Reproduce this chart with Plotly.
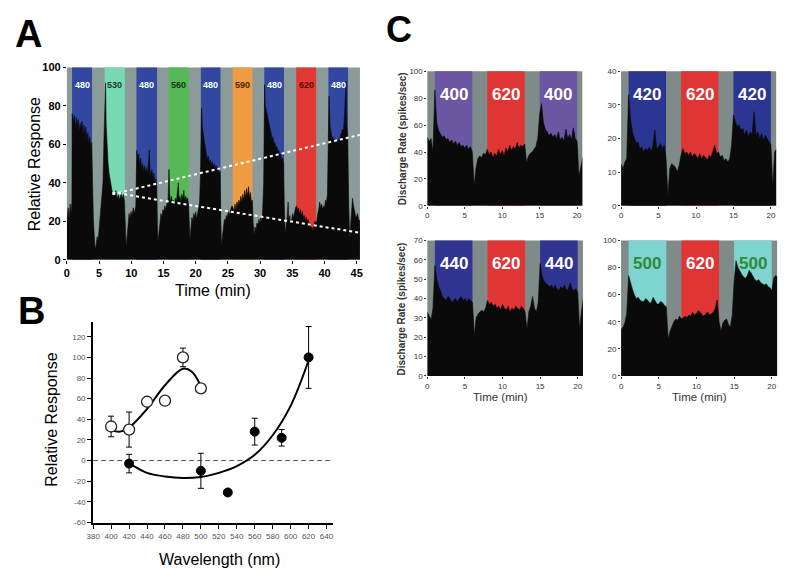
import plotly.graph_objects as go

# ---------------- Panel A data ----------------
a_time = [0.0, 0.2, 0.35, 0.5, 0.65, 0.78,
          0.82, 1.0, 1.15, 1.3, 1.45, 1.6, 1.75, 1.9, 2.05, 2.2, 2.35, 2.5, 2.65, 2.8, 2.95, 3.1, 3.25, 3.4, 3.55, 3.7, 3.85,
          3.95, 4.1, 4.25, 4.4, 4.55, 4.7, 4.85, 5.0, 5.15, 5.3, 5.45, 5.6, 5.75, 5.9, 6.0, 6.1,
          6.25, 6.4, 6.55, 6.7, 6.85, 7.0, 7.2, 7.4, 7.6, 7.8, 8.0, 8.2, 8.4, 8.6, 8.8, 8.95,
          9.05, 9.2, 9.35, 9.5, 9.65, 9.8, 9.95, 10.1, 10.3, 10.5, 10.7,
          10.85, 11.0, 11.15, 11.3, 11.45, 11.6, 11.75, 11.9, 12.05, 12.2, 12.35, 12.5, 12.65, 12.8, 12.9, 13.05, 13.2, 13.35, 13.5, 13.65, 13.8, 13.95,
          14.05, 14.15, 14.3, 14.45, 14.6, 14.75, 14.9, 15.05, 15.2, 15.35, 15.5, 15.7,
          15.85, 15.95, 16.1, 16.25, 16.4, 16.55, 16.7, 16.85, 17.0, 17.15, 17.3, 17.4, 17.55, 17.7, 17.85, 18.0, 18.15, 18.3, 18.45, 18.6, 18.75, 18.9,
          19.0, 19.1, 19.25, 19.4, 19.55, 19.7, 19.85, 20.0, 20.15, 20.3, 20.45, 20.6, 20.75, 20.9, 21.05,
          21.2, 21.35, 21.5, 21.65, 21.8, 21.95, 22.1, 22.25, 22.4, 22.55, 22.7, 22.85, 23.0, 23.15, 23.3, 23.45, 23.6, 23.8,
          23.9, 24.0, 24.15, 24.3, 24.45, 24.6, 24.75, 24.9, 25.05, 25.2, 25.35, 25.5, 25.65,
          25.8, 25.95, 26.1, 26.25, 26.4, 26.55, 26.7, 26.85, 27.0, 27.15, 27.3, 27.45, 27.6, 27.75, 27.9, 28.05, 28.2, 28.35, 28.5, 28.65, 28.8,
          28.9, 29.05, 29.2, 29.35, 29.5, 29.65, 29.8, 29.95, 30.1, 30.25, 30.4, 30.55, 30.7, 30.8,
          30.95, 31.1, 31.25, 31.4, 31.55, 31.7, 31.85, 32.0, 32.15, 32.3, 32.45, 32.6, 32.75, 32.9, 33.05, 33.2, 33.35, 33.5, 33.65,
          33.75, 33.9, 34.05, 34.2, 34.35, 34.45, 34.6, 34.75, 34.9, 35.05, 35.2, 35.35, 35.5,
          35.65, 35.8, 35.95, 36.1, 36.25, 36.4, 36.55, 36.7, 36.85, 37.0, 37.15, 37.3, 37.45, 37.6, 37.75, 37.9, 38.05, 38.2, 38.35, 38.5, 38.65,
          38.8, 38.95, 39.1, 39.25, 39.4, 39.55, 39.7, 39.85, 40.0, 40.15, 40.3, 40.45, 40.55,
          40.7, 40.85, 41.0, 41.15, 41.3, 41.45, 41.6, 41.75, 41.9, 42.05, 42.2, 42.35, 42.5, 42.65, 42.8, 42.95, 43.1, 43.25, 43.35, 43.45, 43.6,
          43.75, 43.9, 44.05, 44.2, 44.35, 44.5, 44.65, 44.8, 44.95, 45.1, 45.3, 45.5]
a_resp = [20, 27, 21, 29, 24, 30,
          76, 72, 75, 68, 74, 70, 73, 66, 71, 68, 72, 65, 70, 64, 69, 62, 66, 60, 64, 58, 61,
          40, 22, 12, 5, 8, 12, 10, 16, 22, 26, 31, 40, 62, 80, 92, 70,
          58, 50, 45, 42, 39, 36, 35, 33, 36, 32, 34, 31, 35, 32, 34, 30,
          20, 7, 12, 18, 24, 21, 25, 23, 27, 24, 28,
          57, 52, 55, 49, 53, 47, 50, 46, 49, 45, 48, 44, 50, 57, 46, 44, 47, 42, 45, 40, 42, 38,
          18, 9, 14, 20, 24, 22, 26, 25, 28, 26, 29, 30,
          47, 34, 30, 33, 29, 31, 28, 32, 30, 35, 40, 31, 33, 30, 34, 31, 36, 30, 33, 31, 32, 28,
          18, 10, 16, 22, 20, 24, 22, 25, 21, 24, 27, 30, 45, 79, 68,
          64, 60, 57, 55, 52, 54, 50, 52, 49, 51, 48, 50, 47, 49, 46, 48, 45, 46,
          20, 7, 12, 18, 21, 20, 23, 22, 25, 23, 26, 27, 28,
          27, 25, 29, 26, 30, 28, 31, 29, 33, 30, 34, 31, 36, 32, 37, 33, 38, 32, 35, 30, 31,
          20, 13, 17, 15, 19, 18, 21, 19, 22, 20, 26, 40, 91, 80,
          78, 75, 72, 70, 68, 66, 62, 64, 60, 61, 58, 59, 56, 57, 54, 55, 52, 53, 50,
          28, 13, 18, 22, 30, 20, 23, 19, 21, 24, 22, 25, 27,
          28, 26, 27, 24, 26, 23, 25, 22, 23, 20, 22, 19, 21, 18, 19, 16, 17, 15, 18, 20, 19,
          20, 24, 26, 30, 27, 29, 26, 28, 27, 31, 30, 34, 50,
          85, 70, 66, 63, 64, 61, 63, 60, 62, 61, 63, 62, 65, 66, 68, 67, 75, 86, 93, 70, 64,
          30, 10, 18, 26, 32, 28, 25, 23, 22, 24, 21, 20]
a_band_start = [0.8, 5.85, 10.8, 15.8, 20.8, 25.75, 30.65, 35.6, 40.6]
a_band_end = [3.9, 9.0, 14.0, 18.9, 23.85, 28.8, 33.7, 38.7, 43.65]
a_band_nm = ["480", "530", "480", "560", "480", "590", "480", "620", "480"]
a_trend_x = [7.06, 45.5]
a_trend_up = [34, 65]
a_trend_down = [35, 14]

# ---------------- Panel B data ----------------
b_open_wl = [400, 420, 440, 460, 480, 500]
b_open_val = [33, 30, 57, 58, 100, 70]
b_open_err = [10, 17, 0, 0, 9, 0]
b_fill_wl = [420, 500, 530, 560, 590, 620]
b_fill_val = [-3, -10, -31, 28, 22, 100]
b_fill_err = [9, 17, 0, 13, 8, 30]
b_fit_open_wl = [400, 410, 420, 440, 460, 480, 490, 500]
b_fit_open_val = [29.5, 28, 32, 50, 73, 89, 86, 72]
b_fit_fill_wl = [420, 440, 460, 480, 500, 520, 540, 560, 580, 600, 620]
b_fit_fill_val = [-2.5, -12, -15.5, -17, -16, -12, -5.5, 5.5, 24.5, 53, 97]
b_ytick_vals = [-60, -40, -20, 0, 20, 40, 60, 80, 100, 120]
b_ytick_text = ["-60", "-40", "-20", "0", "20", "40", "60", "80", "100", "120"]
b_xtick_vals = [380, 400, 420, 440, 460, 480, 500, 520, 540, 560, 580, 600, 620, 640]

# ---------------- Panel C data ----------------
c_time = [0.0, 0.25, 0.5, 0.75, 1.0, 1.25, 1.5, 1.75, 2.0, 2.25, 2.5, 2.75, 3.0, 3.25, 3.5, 3.75,
          4.0, 4.25, 4.5, 4.75, 5.0, 5.25, 5.5, 5.75, 6.0, 6.25, 6.5, 6.75, 7.0, 7.25, 7.5, 7.75,
          8.0, 8.25, 8.5, 8.75, 9.0, 9.25, 9.5, 9.75, 10.0, 10.25, 10.5, 10.75, 11.0, 11.25, 11.5, 11.75,
          12.0, 12.25, 12.5, 12.75, 13.0, 13.25, 13.5, 13.75, 14.0, 14.25, 14.5, 14.75, 15.0, 15.25, 15.5, 15.75,
          16.0, 16.25, 16.5, 16.75, 17.0, 17.25, 17.5, 17.75, 18.0, 18.25, 18.5, 18.75, 19.0, 19.25, 19.5, 19.75,
          20.0, 20.25, 20.5, 20.75, 21.0]
c_rate_400 = [51, 48, 50, 40, 86, 62, 56, 53, 51, 52, 49, 50, 47, 49, 46, 48,
              45, 47, 44, 45, 43, 45, 42, 44, 40, 15, 28, 35, 37, 36, 39, 38,
              42, 38, 40, 36, 39, 37, 42, 38, 41, 37, 43, 40, 45, 41, 44, 42,
              47, 43, 45, 44, 46, 32, 37, 39, 40, 42, 44, 50, 68, 76, 62, 57,
              55, 52, 54, 51, 53, 50, 55, 49, 51, 48, 57, 50, 53, 49, 58, 50,
              48, 22, 30, 36, 33]
c_rate_420 = [12.5, 11, 13, 14, 33, 26, 22, 20, 18.5, 19, 17, 17.5, 16, 17, 16.5, 17.5,
              16, 18, 22.5, 17, 17.5, 18.5, 17, 18, 14, 3, 11, 12.5, 12, 11.5, 10, 12,
              15, 17, 15.5, 16, 15, 16, 14.5, 15.5, 15, 14, 15.5, 14, 15, 14.5, 13.5, 15,
              14.5, 16, 18, 15.5, 16, 14.5, 15, 13.5, 14, 13, 14, 18, 27, 25, 23.5, 24,
              22.5, 23, 21, 22.5, 20.5, 22, 21, 28, 21, 22, 20, 21.5, 19.5, 21, 20, 19,
              18, 5.5, 16, 17, 14.5]
c_rate_440 = [33, 31, 29, 35, 57, 50, 46, 44, 41, 40, 39, 41, 40, 38, 39, 40,
              38, 40, 41, 39, 40, 38, 40, 39, 38, 21, 30, 32, 33, 34, 33, 35,
              39, 37, 38, 36, 37, 35, 36, 34, 37, 35, 34, 36, 33, 35, 34, 36,
              35, 34, 36, 35, 33, 24, 33, 36, 41, 35, 33, 38, 58, 52, 49, 48,
              47, 46, 47, 45, 47, 45, 44, 46, 45, 47, 44, 45, 48, 45, 44, 45,
              43, 24, 33, 42, 48]
c_rate_500 = [34, 36, 39, 46, 74, 68, 64, 60, 57, 58, 56, 55, 55, 57, 56, 54,
              54, 58, 55, 53, 53, 55, 54, 52, 51, 27, 33, 37, 40, 42, 41, 44,
              42, 43, 44, 43, 45, 44, 47, 45, 46, 48, 47, 45, 44, 46, 47, 45,
              46, 47, 50, 56, 40, 33, 39, 41, 42, 38, 36, 45, 70, 85, 80, 77,
              75, 73, 72, 74, 78, 76, 73, 71, 70, 71, 69, 68, 67, 68, 66, 65,
              63, 72, 74, 73, 71]
c_band_start = [1, 8, 15]
c_band_end = [6, 13, 20]
c_labels = [["400", "620", "400"], ["420", "620", "420"],
            ["440", "620", "440"], ["500", "620", "500"]]
c_ymax = [100, 40, 70, 100]
c_ydtick = [20, 10, 10, 20]

# ---------------- styles ----------------
FONT = "Arial, Liberation Sans, sans-serif"
A_GRAY = "#8b9b99"
A_COLORS = {"480": "#3147a0", "530": "#78dab4", "560": "#55b956", "590": "#f19b42", "620": "#e23934"}
A_TXT = {"480": "#ffffff", "530": "#1d3a25", "560": "#123a12", "590": "#4a2600", "620": "#5a0a08"}
C_GRAY = "#7e8b89"
C_COLORS = {"400": "#6a56a2", "420": "#2b3592", "440": "#313491", "500": "#7fd4d1", "620": "#e03535"}
C_TXT = {"400": "#ffffff", "420": "#ffffff", "440": "#ffffff", "500": "#2e8b36", "620": "#ffffff"}

fig = go.Figure()
shapes = []
annotations = []

# ---- Panel A ----
shapes.append(dict(type="rect", xref="x domain", yref="y domain", x0=0, x1=1, y0=0, y1=1,
                   fillcolor=A_GRAY, line=dict(width=0), layer="below"))
for s, e, nm in zip(a_band_start, a_band_end, a_band_nm):
    shapes.append(dict(type="rect", xref="x", yref="y domain", x0=s, x1=e, y0=0, y1=1,
                       fillcolor=A_COLORS[nm], line=dict(width=0), layer="below"))
    annotations.append(dict(x=(s + e) / 2, y=0.945, xref="x", yref="y domain", text=nm, showarrow=False,
                            font=dict(family=FONT, size=9, color=A_TXT[nm], weight="bold")))
fig.add_trace(go.Scatter(x=a_time, y=a_resp, mode="lines", fill="tozeroy", fillcolor="#0a0a0a",
                         line=dict(color="#0a0a0a", width=0.6), xaxis="x", yaxis="y", hoverinfo="skip"))
fig.add_trace(go.Scatter(x=a_trend_x, y=a_trend_up, mode="lines",
                         line=dict(color="white", width=2, dash="3px,3px"), xaxis="x", yaxis="y"))
fig.add_trace(go.Scatter(x=a_trend_x, y=a_trend_down, mode="lines",
                         line=dict(color="white", width=2, dash="3px,3px"), xaxis="x", yaxis="y"))

# ---- Panel B ----
fig.add_trace(go.Scatter(x=[380, 647], y=[0, 0], mode="lines",
                         line=dict(color="#555555", width=1.2, dash="5px,3px"), xaxis="x2", yaxis="y2"))
fig.add_trace(go.Scatter(x=b_fit_open_wl, y=b_fit_open_val, mode="lines", line_shape="spline",
                         line=dict(color="black", width=2), xaxis="x2", yaxis="y2"))
fig.add_trace(go.Scatter(x=b_fit_fill_wl, y=b_fit_fill_val, mode="lines", line_shape="spline",
                         line=dict(color="black", width=2), xaxis="x2", yaxis="y2"))
fig.add_trace(go.Scatter(x=b_fill_wl, y=b_fill_val, mode="markers",
                         marker=dict(color="black", size=9, line=dict(color="black", width=1)),
                         error_y=dict(type="data", array=b_fill_err, color="black", thickness=1, width=3),
                         xaxis="x2", yaxis="y2"))
fig.add_trace(go.Scatter(x=b_open_wl, y=b_open_val, mode="markers",
                         marker=dict(color="white", size=11, line=dict(color="#222222", width=1.3)),
                         error_y=dict(type="data", array=b_open_err, color="black", thickness=1, width=3),
                         xaxis="x2", yaxis="y2"))

# ---- Panel C ----
c_rates = [c_rate_400, c_rate_420, c_rate_440, c_rate_500]
for i in range(4):
    ax = str(i + 3)
    shapes.append(dict(type="rect", xref="x" + ax + " domain", yref="y" + ax + " domain",
                       x0=0, x1=1, y0=0, y1=1, fillcolor=C_GRAY, line=dict(width=0), layer="below"))
    for s, e, nm in zip(c_band_start, c_band_end, c_labels[i]):
        shapes.append(dict(type="rect", xref="x" + ax, yref="y" + ax + " domain", x0=s, x1=e, y0=0, y1=1,
                           fillcolor=C_COLORS[nm], line=dict(width=0), layer="below"))
        annotations.append(dict(x=(s + e) / 2, y=0.915, xref="x" + ax, yref="y" + ax + " domain", text=nm,
                                showarrow=False,
                                font=dict(family=FONT, size=17, color=C_TXT[nm], weight="bold")))
    fig.add_trace(go.Scatter(x=c_time, y=c_rates[i], mode="lines", fill="tozeroy", fillcolor="#0a0a0a",
                             line=dict(color="#0a0a0a", width=0.6), xaxis="x" + ax, yaxis="y" + ax,
                             hoverinfo="skip"))

# ---- axes ----
noline = dict(showgrid=False, zeroline=False)
layout = dict(
    width=790, height=582, margin=dict(l=0, r=0, t=0, b=0),
    paper_bgcolor="white", plot_bgcolor="white", showlegend=False,
    font=dict(family=FONT),
    xaxis=dict(domain=[0.0768, 0.4525], range=[0, 45.5], tickvals=list(range(0, 46, 5)), ticks="outside",
               ticklen=3, tickcolor="black", anchor="y",
               tickfont=dict(size=11, color="black", weight="bold"), showline=False, **noline),
    yaxis=dict(domain=[0.555, 0.892], range=[0, 100], dtick=20, ticks="outside", ticklen=3,
               tickcolor="black", anchor="x", tickfont=dict(size=11, color="black", weight="bold"),
               showline=False, **noline),
    xaxis2=dict(domain=[0.1105, 0.4177], range=[380, 647], tickvals=b_xtick_vals, ticks="outside",
                ticklen=4, tickwidth=1, tickcolor="black", anchor="y2", showline=True, linewidth=2,
                linecolor="black", tickfont=dict(size=8, color="#555555"), **noline),
    yaxis2=dict(domain=[0.0923, 0.445], range=[-61, 134], tickvals=b_ytick_vals, ticktext=b_ytick_text,
                ticks="outside", ticklen=4, tickwidth=1, tickcolor="black", anchor="x2", showline=True,
                linewidth=2, linecolor="black", tickfont=dict(size=8, color="#555555"), **noline),
)
c_xdom = [[0.5389, 0.7376], [0.7873, 0.9861], [0.5389, 0.7384], [0.7873, 0.9873]]
c_ydom = [[0.6495, 0.8854], [0.6495, 0.8854], [0.351, 0.5888], [0.351, 0.5888]]
for i in range(4):
    ax = str(i + 3)
    layout["xaxis" + ax] = dict(domain=c_xdom[i], range=[0, 20.7], tickvals=[0, 5, 10, 15, 20], ticks="outside",
                                ticklen=2, tickcolor="#333", anchor="y" + ax,
                                tickfont=dict(size=8, color="#333333"), **noline)
    layout["yaxis" + ax] = dict(domain=c_ydom[i], range=[0, c_ymax[i]], dtick=c_ydtick[i], ticks="outside",
                                ticklen=2, tickcolor="#333", anchor="x" + ax,
                                tickfont=dict(size=8, color="#333333"), **noline)
fig.update_layout(**layout)

# ---- titles & panel letters ----
def ann(x, y, text, size, color="black", angle=0, weight="normal"):
    annotations.append(dict(x=x / 790, y=1 - y / 582, xref="paper", yref="paper", text=text, showarrow=False,
                            textangle=angle, xanchor="center", yanchor="middle",
                            font=dict(family=FONT, size=size, color=color, weight=weight)))

ann(22, 29, "A", 38, weight="bold")
ann(25, 311, "B", 38, weight="bold")
ann(397, 24, "C", 36, weight="bold")
ann(28, 162, "Relative Response", 16, angle=-90)
ann(209, 290, "Time (min)", 16)
ann(45, 422, "Relative Response", 16, angle=-90)
ann(215, 565, "Wavelength (nm)", 16)
ann(400, 135, "Discharge Rate (spikes/sec)", 10, color="#333333", angle=-90, weight="bold")
ann(400, 309, "Discharge Rate (spikes/sec)", 10, color="#333333", angle=-90, weight="bold")
ann(500, 399, "Time (min)", 11.5, color="#333333")
ann(701, 399, "Time (min)", 11.5, color="#333333")

fig.update_layout(shapes=shapes, annotations=annotations)
fig.write_html("out.html", config={"displayModeBar": False},
               post_script="document.body.style.margin='0';")
